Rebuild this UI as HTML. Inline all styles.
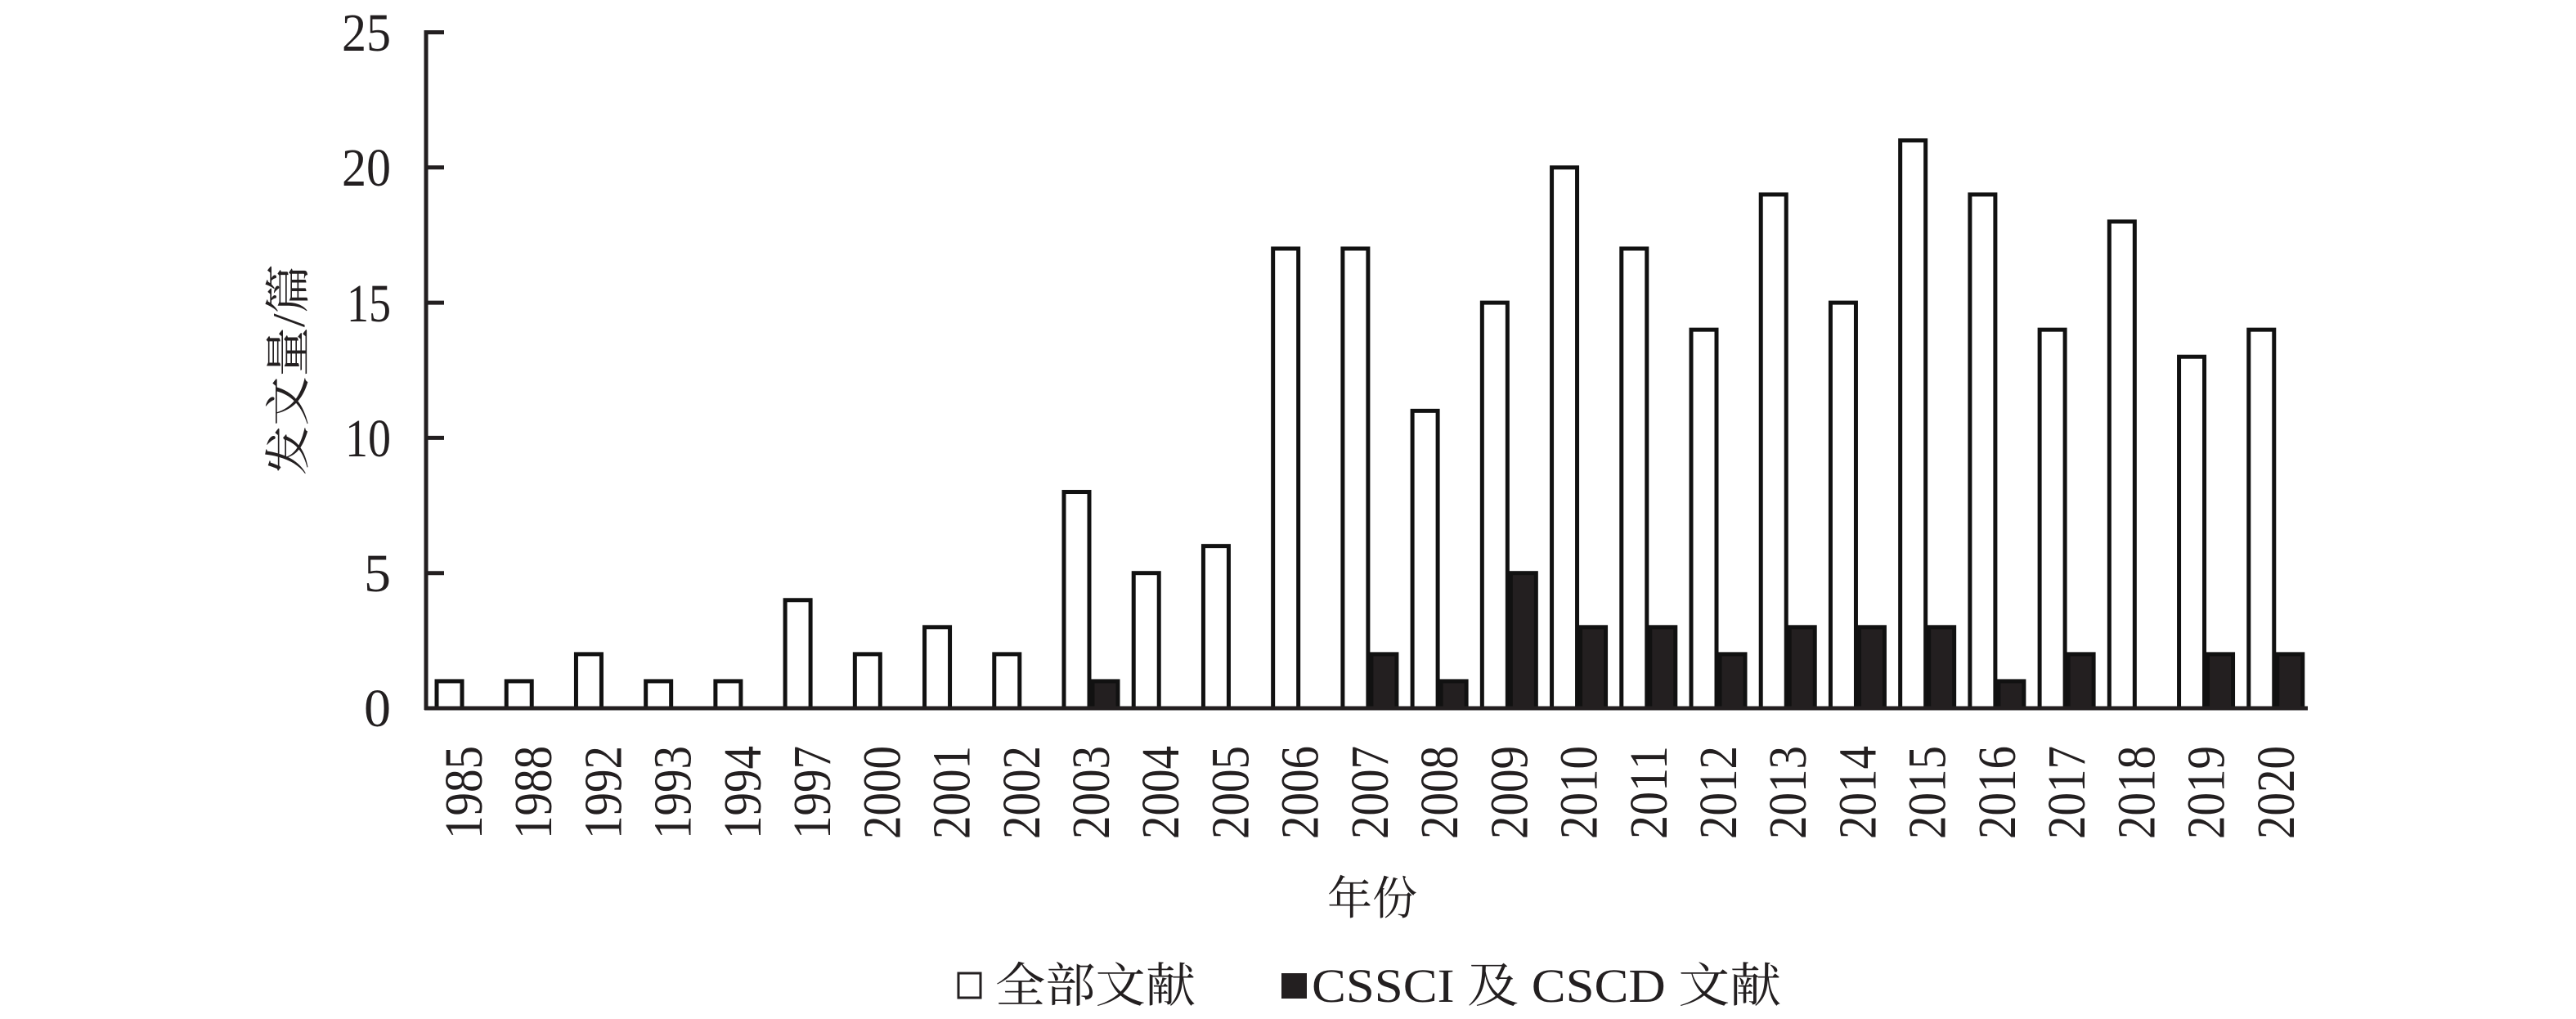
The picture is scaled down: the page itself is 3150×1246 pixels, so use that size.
<!DOCTYPE html>
<html><head><meta charset="utf-8"><style>
html,body{margin:0;padding:0;background:#fff;}
svg{display:block;}
text{fill:#231f20;}
</style></head><body>
<svg width="3150" height="1246" viewBox="0 0 3150 1246" xmlns="http://www.w3.org/2000/svg">
<g id="bars"></g>
<g stroke="#231f20" stroke-width="5" fill="none">
<line x1="521" y1="37" x2="521" y2="868"/>
<line x1="519" y1="866" x2="2822" y2="866"/>
<line x1="521" y1="39.5" x2="543" y2="39.5"/>
<line x1="521" y1="204.8" x2="543" y2="204.8"/>
<line x1="521" y1="370.1" x2="543" y2="370.1"/>
<line x1="521" y1="535.4" x2="543" y2="535.4"/>
<line x1="521" y1="700.7" x2="543" y2="700.7"/>
</g>
<g font-family="Liberation Serif, serif" font-size="66" text-anchor="end">
<text x="478" y="62" textLength="60" lengthAdjust="spacingAndGlyphs">25</text>
<text x="478" y="227" textLength="60" lengthAdjust="spacingAndGlyphs">20</text>
<text x="478" y="393" textLength="54" lengthAdjust="spacingAndGlyphs">15</text>
<text x="478" y="558" textLength="56" lengthAdjust="spacingAndGlyphs">10</text>
<text x="478" y="723">5</text>
<text x="478" y="888">0</text>
</g>
<g id="xl" font-family="Liberation Serif, serif" font-size="66"></g>
<text transform="translate(372,452) rotate(-90)" font-family="Liberation Serif, 'Noto Serif CJK SC', serif" font-size="56" text-anchor="middle" textLength="258" lengthAdjust="spacingAndGlyphs">发文量/篇</text>
<text x="1678" y="1118" font-family="Liberation Serif, 'Noto Serif CJK SC', serif" font-size="56" text-anchor="middle" textLength="110" lengthAdjust="spacingAndGlyphs">年份</text>
<rect x="1172" y="1190" width="27" height="30" fill="#fff" stroke="#231f20" stroke-width="3"/>
<text x="1217" y="1225" font-family="Liberation Serif, 'Noto Serif CJK SC', serif" font-size="58" textLength="245" lengthAdjust="spacingAndGlyphs">全部文献</text>
<rect x="1567" y="1190" width="31" height="31" fill="#231f20"/>
<text x="1604" y="1225" font-family="Liberation Serif, 'Noto Serif CJK SC', serif" font-size="58" textLength="574" lengthAdjust="spacingAndGlyphs">CSSCI 及 CSCD 文献</text>
</svg>
<script>
var yrs=[1985,1988,1992,1993,1994,1997,2000,2001,2002,2003,2004,2005,2006,2007,2008,2009,2010,2011,2012,2013,2014,2015,2016,2017,2018,2019,2020];
var a=[1,1,2,1,1,4,2,3,2,8,5,6,17,17,11,15,20,17,14,19,15,21,19,14,18,13,14];
var c={2003:1,2007:2,2008:1,2009:5,2010:3,2011:3,2012:2,2013:3,2014:3,2015:3,2016:1,2017:2,2019:2,2020:2};
var ns="http://www.w3.org/2000/svg",g=document.getElementById("bars"),xl=document.getElementById("xl");
var cw=(2821-520)/27,u=(866-39.5)/25;
yrs.forEach(function(y,i){
 var x0=520+i*cw+12;
 var r=document.createElementNS(ns,"rect");
 r.setAttribute("x",x0+2);r.setAttribute("y",866-a[i]*u);r.setAttribute("width",31);r.setAttribute("height",a[i]*u);
 r.setAttribute("fill","#fff");r.setAttribute("stroke","#111");r.setAttribute("stroke-width","5");g.appendChild(r);
 if(c[y]){var b=document.createElementNS(ns,"rect");
 b.setAttribute("x",x0+35+2);b.setAttribute("y",866-c[y]*u);b.setAttribute("width",31);b.setAttribute("height",c[y]*u);
 b.setAttribute("fill","#231f20");b.setAttribute("stroke","#111");b.setAttribute("stroke-width","5");g.appendChild(b);}
 var t=document.createElementNS(ns,"text");var cx=x0+35;
 t.setAttribute("transform","translate("+(cx+22)+",1026) rotate(-90)");
 t.setAttribute("textLength","114");t.setAttribute("lengthAdjust","spacingAndGlyphs");
 t.textContent=y;xl.appendChild(t);
});
</script>
</body></html>
